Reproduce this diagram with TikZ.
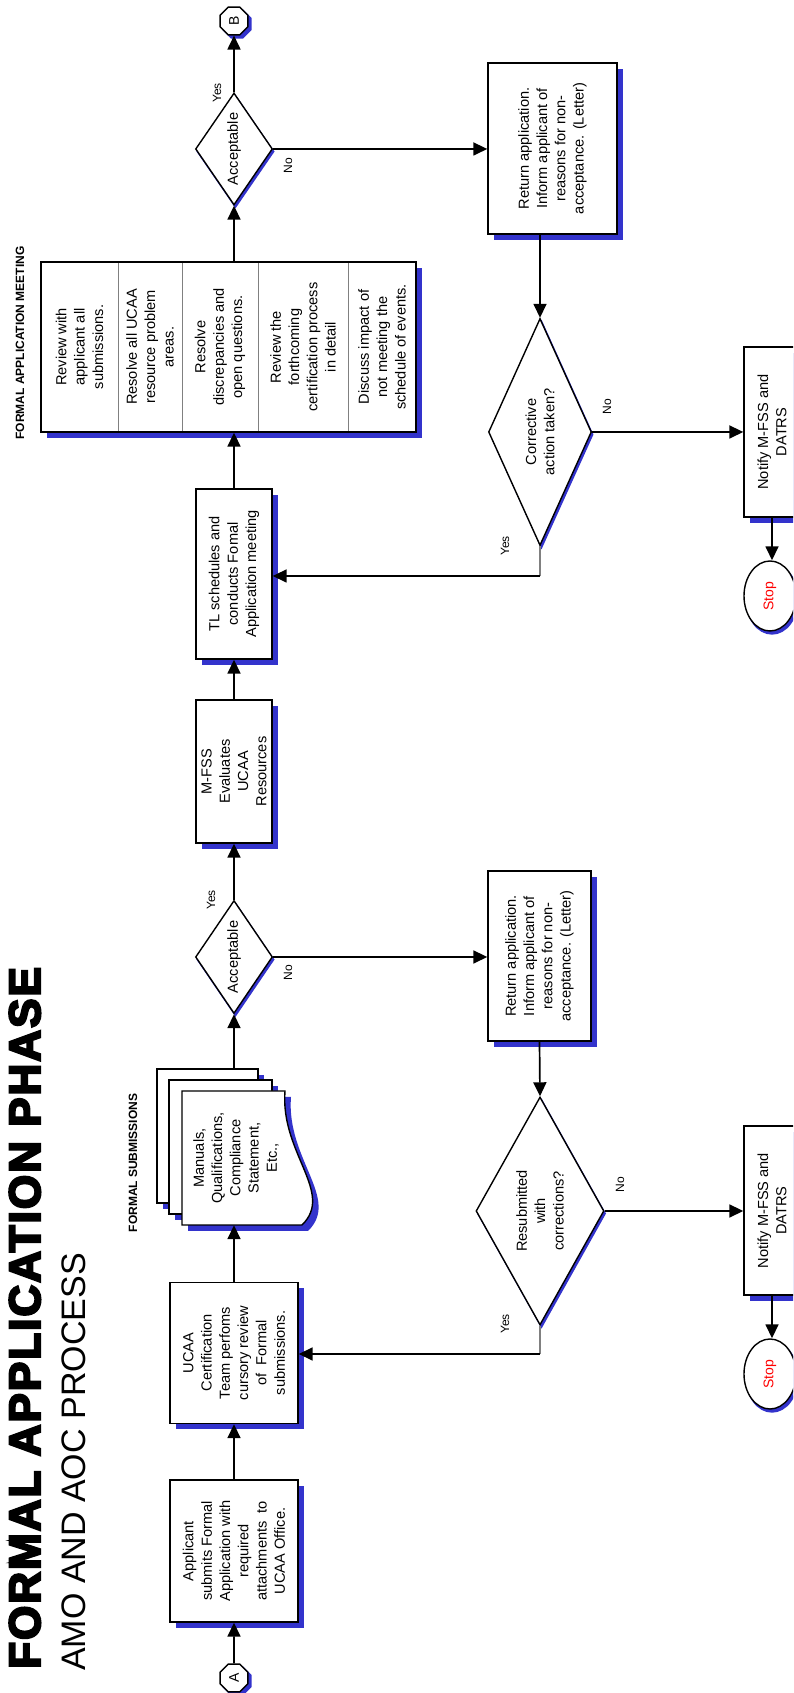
\documentclass[tikz,border=0pt]{standalone}
\usepackage{fontspec}
\setmainfont{Liberation Sans}
\newfontfamily\titlefont[FakeBold=5,LetterSpace=4.6]{Liberation Sans Bold}
\usetikzlibrary{shapes.geometric,arrows.meta}
\definecolor{shadowblue}{RGB}{51,51,204}
\definecolor{linegray}{RGB}{128,128,128}
\definecolor{stopred}{RGB}{255,0,0}
\newcommand{\mainfs}{\fontsize{14.6}{18.3}\selectfont}
\newcommand{\labfs}{\fontsize{12}{14}\selectfont}
\newcommand{\flowbox}[6]{%
  \node[boxshadow, minimum width=#4pt, minimum height=#5pt] at (#2-6,#3+6) {};
  \node[procbox, minimum width=#4pt, minimum height=#5pt] (#1) at (#2,#3) {#6};}
\newcommand{\flowdiamond}[7]{%
  \node[diamondshadow, aspect=#6, minimum width=#4pt, minimum height=#5pt] at (#2-2.5,#3+1.5) {};
  \node[decbox, aspect=#6, minimum width=#4pt, minimum height=#5pt] (#1) at (#2,#3) {#7};}
\tikzset{
  procbox/.style={rectangle, draw, fill=white, line width=1.4pt, inner sep=0pt, align=center, font=\mainfs},
  boxshadow/.style={rectangle, fill=shadowblue, inner sep=0pt},
  decbox/.style={diamond, draw, fill=white, line width=1.4pt, inner sep=0pt, align=center, font=\mainfs},
  diamondshadow/.style={diamond, draw=shadowblue, fill=shadowblue, line width=1.4pt, inner sep=0pt},
  conn/.style={line width=1.7pt, -{Triangle[length=14pt,width=13pt]}},
  grayline/.style={line width=1.7pt, draw=linegray},
  divider/.style={line width=1pt, draw=linegray},
  lab/.style={font=\labfs, inner sep=0pt},
  seclab/.style={font=\labfs\bfseries, inner sep=0pt},
  connector/.style={regular polygon, regular polygon sides=8, minimum size=30pt, inner sep=0pt, draw, fill=white, line width=1.4pt, font=\fontsize{14}{16}\selectfont},
  connshadow/.style={regular polygon, regular polygon sides=8, minimum size=30pt, inner sep=0pt, fill=shadowblue, draw=shadowblue, line width=1.4pt},
  stopnode/.style={ellipse, draw, fill=white, line width=1.4pt, minimum width=70pt, minimum height=52pt, inner sep=0pt, text=stopred, font=\fontsize{14}{16}\selectfont},
  stopshadow/.style={ellipse, draw=shadowblue, fill=shadowblue, line width=1.4pt, minimum width=70pt, minimum height=52pt, inner sep=0pt},
  rowtext/.style={inner sep=0pt, align=center, font=\mainfs},
}
\begin{document}
\begin{tikzpicture}[x=1pt,y=1pt]
\useasboundingbox (0,0) rectangle (793,1693);
\clip (0,0) rectangle (793,1693);
\begin{scope}[rotate=90, transform shape, x=1pt, y=-1pt]
% titles
\node[anchor=base west, inner sep=0pt, font=\titlefont\fontsize{44}{48}\selectfont] (title) at (24,40) {FORMAL APPLICATION PHASE};
\node[anchor=base west, inner sep=0pt, font=\fontsize{34}{38}\selectfont] (subtitle) at (22,85) {AMO AND AOC PROCESS};
% section labels
\node[seclab] (sublab) at (530,133) {FORMAL SUBMISSIONS};
\node[seclab] (meetlab) at (1350,20) {FORMAL APPLICATION MEETING};
% off-page connectors
\node[connshadow] at (15-3,234+3) {};
\node[connector] (A) at (15,234) {A};
\node[connshadow] at (1672-3,234+3) {};
\node[connector] (B) at (1672,234) {B};
% main row
\flowbox{box1}{142}{234}{142}{128}{Applicant\\submits Formal\\Application with\\required\\attachments\ \ to\\UCAA Office.}
\flowbox{box2}{340}{234}{141}{128}{UCAA\\Certification\\Team perfoms\\cursory review\\of\ \ Formal\\submissions.}
% document stack
\flowbox{docback}{557}{207.5}{134}{101}{}
\flowbox{docmid}{546}{220.5}{134}{103}{}
\fill[shadowblue] (462,188) -- (596,188) -- (596,291) .. controls (534,286) and (494,341) .. (462,308) -- cycle;
\filldraw[fill=white, line width=1.4pt] (468,182) -- (602,182) -- (602,285) .. controls (540,280) and (500,335) .. (468,302) -- cycle;
\node[inner sep=0pt, minimum width=134pt, minimum height=103pt, align=center, font=\mainfs] (docfront) at (535,236) {Manuals,\\Qualifications,\\Compliance\\Statement,\\Etc.,};
\flowdiamond{d1}{736}{234}{113}{77}{1.47}{Acceptable}
\flowbox{mfss}{921.5}{234}{143}{76}{M-FSS\\Evaluates\\UCAA\\Resources}
\flowbox{tl}{1119}{234}{170}{76}{TL schedules and\\conducts Fomal\\Application meeting}
% meeting table
\node[boxshadow, minimum width=170pt, minimum height=375pt] at (1340,234.5) {};
\node[procbox, minimum width=170pt, minimum height=375pt] (meet) at (1346,228.5) {};
\draw[divider] (1262,118) -- (1430,118);
\draw[divider] (1262,182) -- (1430,182);
\draw[divider] (1262,258) -- (1430,258);
\draw[divider] (1262,348) -- (1430,348);
\node[rowtext] (row1) at (1346,79.5) {Review with\\applicant all\\submissions.};
\node[rowtext] (row2) at (1346,150) {Resolve all UCAA\\resource problem\\areas.};
\node[rowtext] (row3) at (1346,220) {Resolve\\discrepancies and\\open questions.};
\node[rowtext] (row4) at (1346,303) {Review the\\forthcoming\\certification process\\in detail};
\node[rowtext] (row5) at (1346,382) {Discuss impact of\\not meeting the\\schedule of events.};
\flowdiamond{d2}{1544}{234}{112}{77}{1.45}{Acceptable}
% lower branch 1
\flowbox{ret1}{737}{539.5}{170}{103}{Return application.\\Inform applicant of\\reasons for non-\\acceptance. (Letter)}
\flowdiamond{res}{482}{540}{228}{128}{1.78}{Resubmitted\\with\\corrections?}
\flowbox{notify1}{482.5}{772}{169}{56}{Notify M-FSS and\\DATRS}
\node[stopshadow] at (319-3,770+2) {};
\node[stopnode] (stop1) at (319,770) {Stop};
% lower branch 2
\flowbox{ret2}{1544.5}{552.5}{171}{129}{Return application.\\Inform applicant of\\reasons for non-\\acceptance. (Letter)}
\flowdiamond{cor}{1261}{540}{227}{103}{2.2}{Corrective\\action taken?}
\flowbox{notify2}{1261}{772}{170}{56}{Notify M-FSS and\\DATRS}
\node[stopshadow] at (1097-3,770+2) {};
\node[stopnode] (stop2) at (1097,770) {Stop};
\coordinate (c1) at (339,540);
\coordinate (c2) at (1117,540);
% connectors main row
\draw[conn] (A.east) -- (box1.west);
\draw[conn] (box1.east) -- (box2.west);
\draw[conn] (box2.east) -- (docfront.west |- box2.east);
\draw[conn] (docback.east |- d1.west) -- (d1.west);
\draw[conn] (d1.east) -- (mfss.west);
\draw[conn] (mfss.east) -- (tl.west);
\draw[conn] (tl.east) -- (meet.west |- tl.east);
\draw[conn] (meet.east |- d2.west) -- (d2.west);
\draw[conn] (d2.east) -- (B.west);
% branch 1
\draw[conn] (d1.south) -- (d1.south |- ret1.north);
\draw[conn] (ret1.west) -- (res.east);
\draw[conn] (res.south) -- (res.south |- notify1.north);
\draw[conn] (notify1.west) -- (stop1.east |- notify1.west);
\draw[grayline] (res.west) -- (c1);
\draw[conn] (c1) -- (c1 |- box2.south);
% branch 2
\draw[conn] (d2.south) -- (d2.south |- ret2.north);
\draw[conn] (ret2.west |- cor.east) -- (cor.east);
\draw[conn] (cor.south) -- (cor.south |- notify2.north);
\draw[conn] (notify2.west) -- (stop2.east |- notify2.west);
\draw[grayline] (cor.west) -- (c2);
\draw[conn] (c2) -- (c2 |- tl.south);
% yes / no labels
\node[lab] (y1) at (793,211) {Yes};
\node[lab] (n1) at (720,288) {No};
\node[lab] (y2) at (1600,217) {Yes};
\node[lab] (n2) at (1527,288) {No};
\node[lab] (n3) at (508,620) {No};
\node[lab] (y3) at (369,505) {Yes};
\node[lab] (n4) at (1286,607) {No};
\node[lab] (y4) at (1147,505) {Yes};
\end{scope}
\end{tikzpicture}
\end{document}
